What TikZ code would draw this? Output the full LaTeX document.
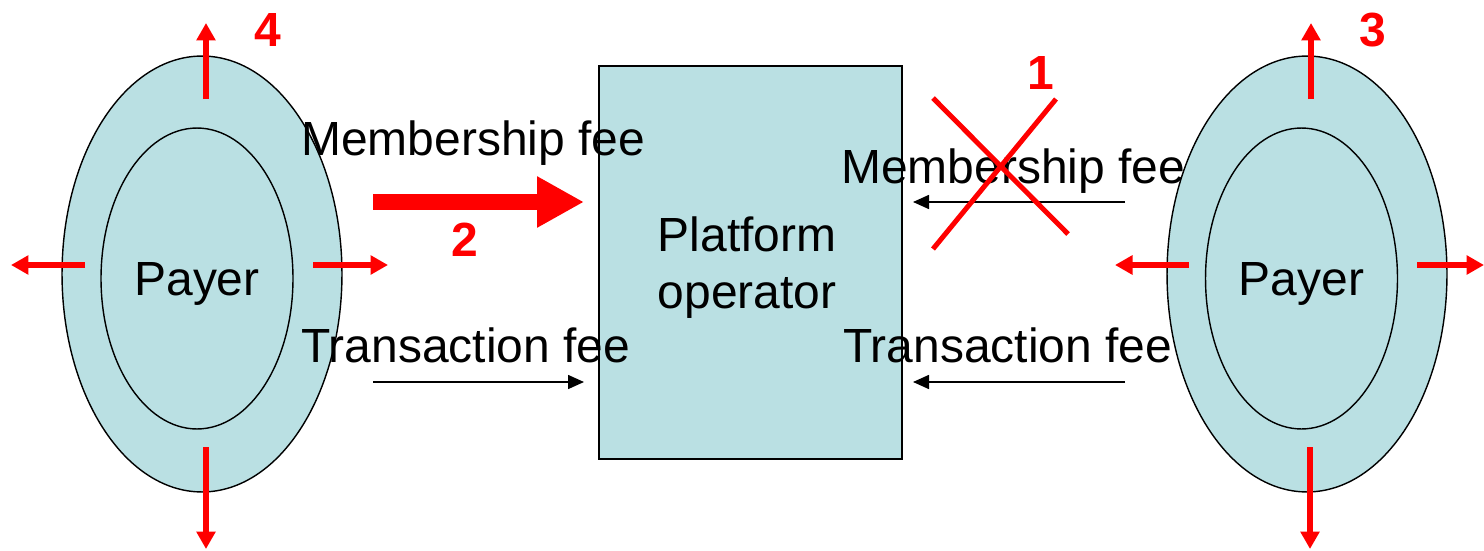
\documentclass[tikz,border=0pt]{standalone}
\usepackage{fontspec}
\setmainfont{Liberation Sans}
\usetikzlibrary{positioning,shapes.geometric,arrows.meta}
\definecolor{payerblue}{RGB}{186,224,227}

\begin{document}
\begin{tikzpicture}[
    x=0.02cm, y=-0.02cm,
    payer/.style = {ellipse, draw, fill=payerblue, line width=0.8pt, inner sep=0pt},
    payerout/.style = {payer, minimum width=5.6cm, minimum height=8.72cm},
    payerin/.style = {payer, minimum width=3.84cm, minimum height=6.02cm, text depth=0pt},
    spoke/.style = {-{Triangle[length=3.5mm,width=3.7mm]}, red, line width=1.3mm},
    fee/.style = {-{Triangle[length=3.2mm,width=2.8mm]}, line width=0.9pt},
    bigfee/.style = {-{Triangle[length=9.4mm,width=9.6mm]}, red, line width=3.2mm},
    feetext/.style = {anchor=base west, inner sep=0pt},
    num/.style = {red, inner sep=0pt, font=\fontsize{27.3}{32.4}\selectfont\bfseries},
    font=\fontsize{27.3}{32.4}\selectfont
]
    \useasboundingbox (0,0) rectangle (1484,551);

    % Payers and platform
    \node at (202,274) [payerout] (outL) {};
    \node at (197,278.5) [payerin] (inL) {Payer};
    \node at (1307,274) [payerout] (outR) {};
    \node at (1301.5,278.5) [payerin] (inR) {Payer};
    \node at (750.5,262.5) [draw, fill=payerblue, line width=1pt, minimum width=6.06cm,
        minimum height=7.86cm] (platform) {};
    \node at (747,268) [align=center, inner sep=0pt] (platformname) {Platform\\operator};

    % Fee labels
    \node at (301,155) [feetext] (memL) {Membership fee};
    \node at (301,362) [feetext] (trL) {Transaction fee};
    \node at (841,183) [feetext] (memR) {Membership fee};
    \node at (843,362) [feetext] (trR) {Transaction fee};

    % Fee arrows
    \coordinate (memL0) at (373,202);
    \coordinate (memL1) at (584,202);
    \coordinate (trL0) at (373,382);
    \coordinate (trL1) at (584,382);
    \coordinate (memR0) at (1125,202);
    \coordinate (memR1) at (913,202);
    \coordinate (trR0) at (1125,382);
    \coordinate (trR1) at (913,382);
    \draw [bigfee] (memL0) -- (memL1);
    \draw [fee] (trL0) -- (trL1);
    \draw [fee] (memR0) -- (memR1);
    \draw [fee] (trR0) -- (trR1);

    % Spokes of the left payer
    \coordinate (upL0) at (206,99);
    \coordinate (upL1) at (206,23);
    \coordinate (dnL0) at (206,447);
    \coordinate (dnL1) at (206,549);
    \coordinate (ltL0) at (85,265);
    \coordinate (ltL1) at (11,265);
    \coordinate (rtL0) at (313,265);
    \coordinate (rtL1) at (388,265);
    \draw [spoke] (upL0) -- (upL1);
    \draw [spoke] (dnL0) -- (dnL1);
    \draw [spoke] (ltL0) -- (ltL1);
    \draw [spoke] (rtL0) -- (rtL1);

    % Spokes of the right payer
    \coordinate (upR0) at (1311,99);
    \coordinate (upR1) at (1311,23);
    \coordinate (dnR0) at (1310,447);
    \coordinate (dnR1) at (1310,549);
    \coordinate (ltR0) at (1189,265);
    \coordinate (ltR1) at (1115,265);
    \coordinate (rtR0) at (1417,265);
    \coordinate (rtR1) at (1484,265);
    \draw [spoke] (upR0) -- (upR1);
    \draw [spoke] (dnR0) -- (dnR1);
    \draw [spoke] (ltR0) -- (ltR1);
    \draw [spoke] (rtR0) -- (rtR1);

    % Crossed out membership fee
    \coordinate (xa0) at (933,98);
    \coordinate (xa1) at (1068,234);
    \coordinate (xb0) at (1056,99);
    \coordinate (xb1) at (933,249);
    \draw [red, line width=1mm] (xa0) -- (xa1);
    \draw [red, line width=1mm] (xb0) -- (xb1);

    % Step numbers
    \node at (1041,73) [num] (n1) {1};
    \node at (465,240) [num] (n2) {2};
    \node at (1373,30) [num] (n3) {3};
    \node at (268,30) [num] (n4) {4};
\end{tikzpicture}
\end{document}
